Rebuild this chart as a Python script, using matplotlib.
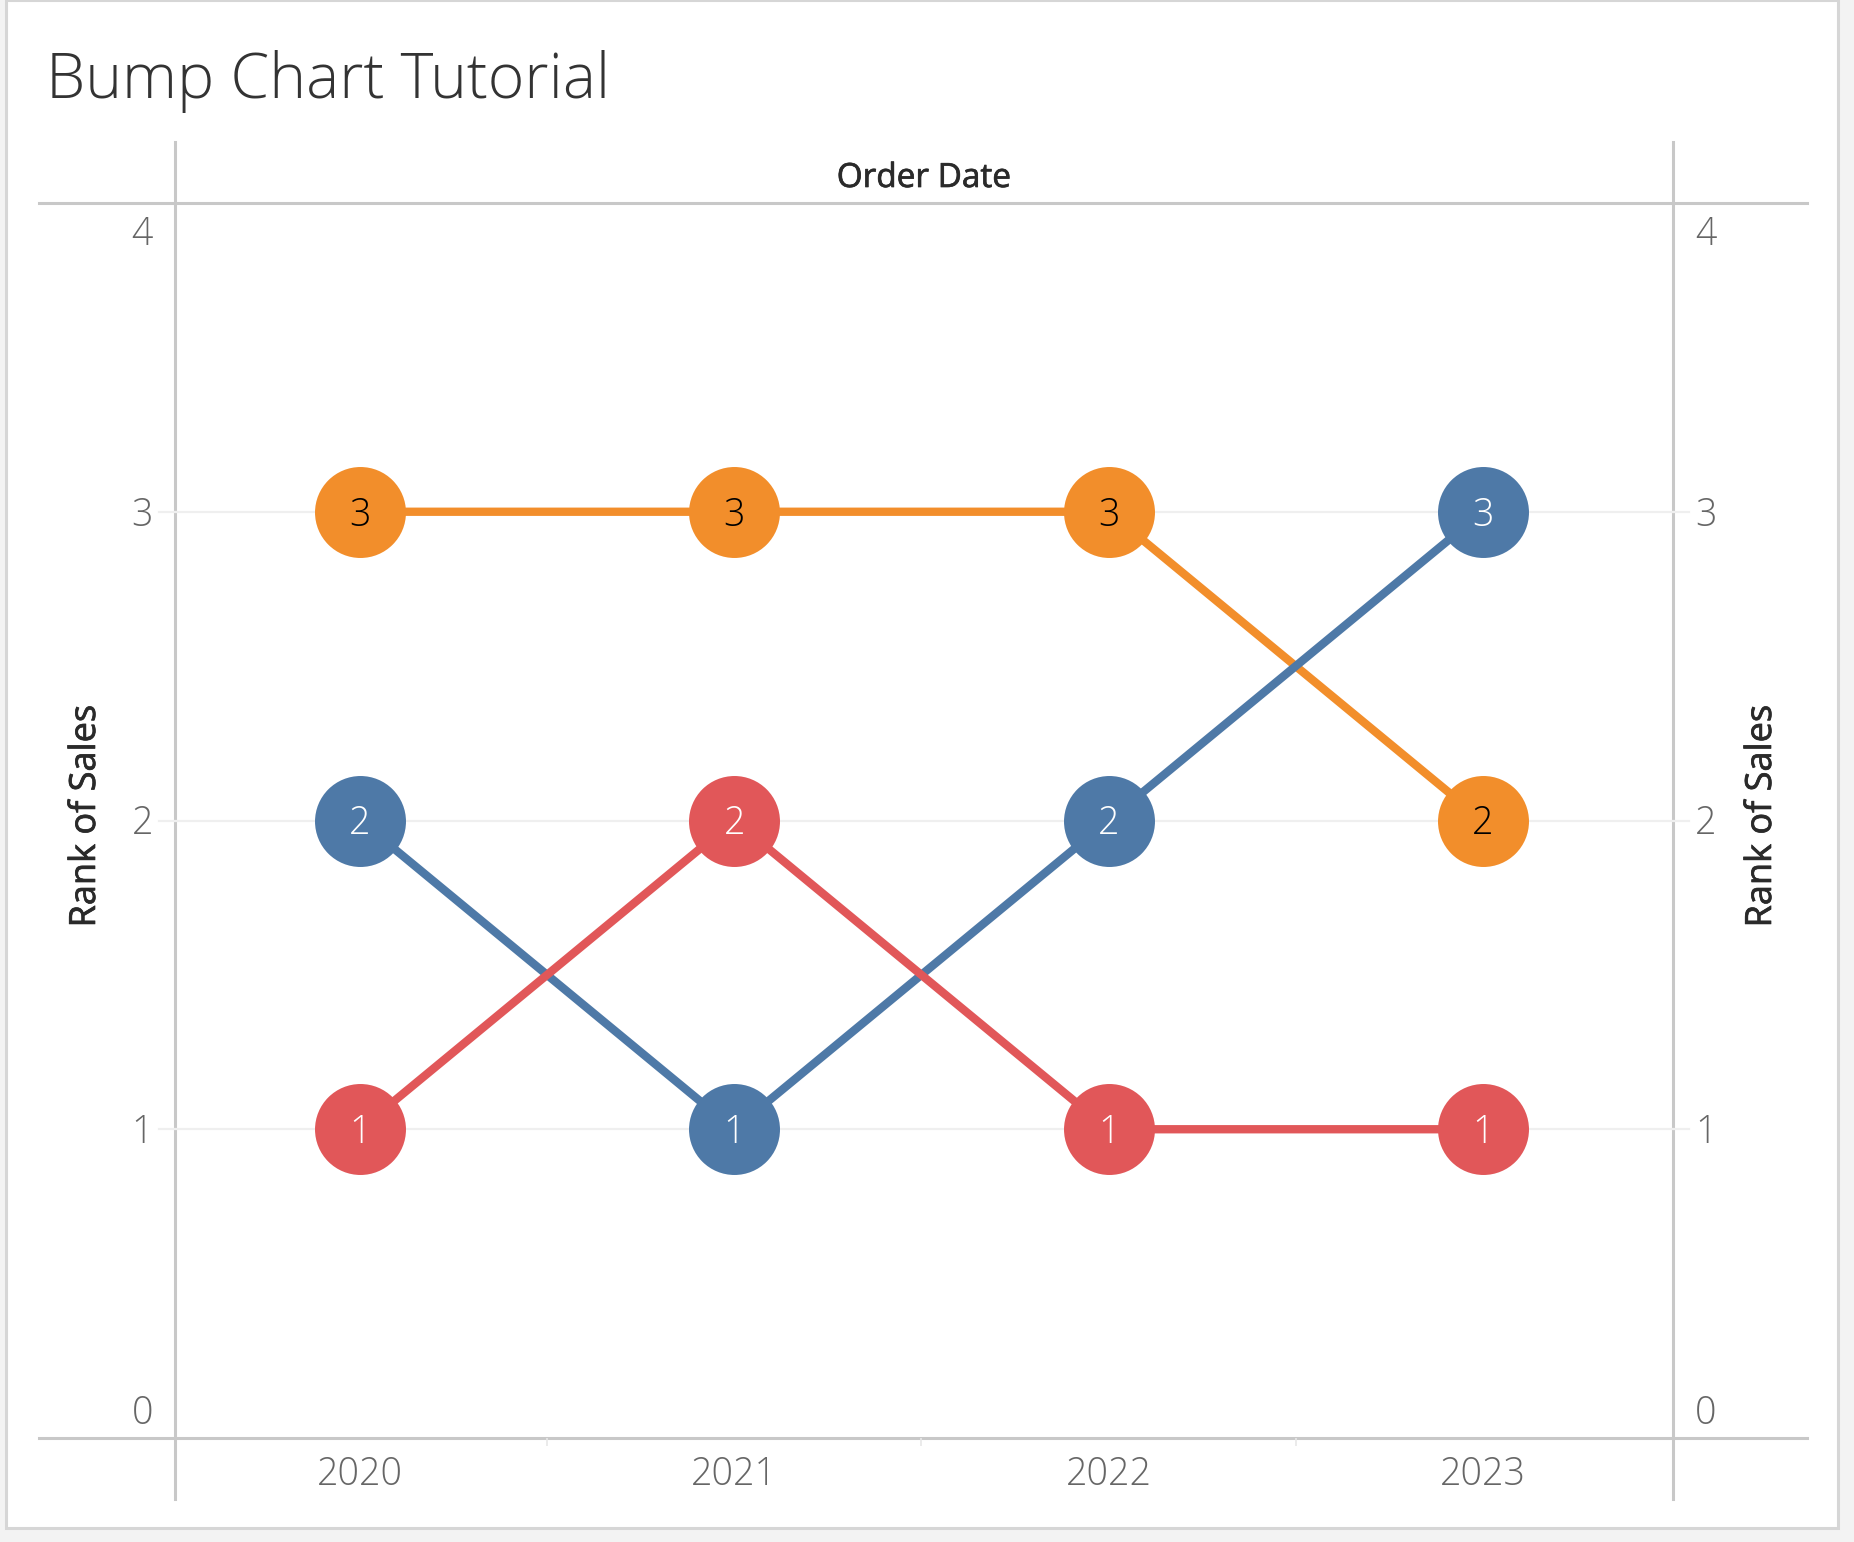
import matplotlib
matplotlib.use("Agg")
import matplotlib.pyplot as plt
import matplotlib.patheffects as pe
from matplotlib.patches import Rectangle
from matplotlib.lines import Line2D
from matplotlib.transforms import ScaledTranslation

# data
years = ["2020", "2021", "2022", "2023"]
series_names = ["Orange", "Blue", "Red"]
rank_orange = [3, 3, 3, 2]
rank_blue = [2, 1, 2, 3]
rank_red = [1, 2, 1, 1]
y_ticks = [0, 1, 2, 3, 4]

colors = {"Orange": "#F28E2B", "Blue": "#4E79A7", "Red": "#E15759"}
label_colors = {"Orange": "black", "Blue": "white", "Red": "white"}
ranks = {"Orange": rank_orange, "Blue": rank_blue, "Red": rank_red}

plt.rcParams["font.family"] = ["Open Sans", "DejaVu Sans"]

W, H = 1854, 1542
fig = plt.figure(figsize=(W / 100, H / 100), dpi=100)
fig.patch.set_facecolor("#f3f3f3")

# white card with thin border (behind the axes)
fig.patches.append(Rectangle((6 / W, 1 - 1528 / H), (1838 - 6) / W, 1528 / H,
                             transform=fig.transFigure, facecolor="white",
                             edgecolor="#d6d6d6", linewidth=2.2, zorder=-5))

left, right, top, bottom = 175, 1673, 203, 1438
ax = fig.add_axes([left / W, 1 - bottom / H, (right - left) / W, (bottom - top) / H])
ax.set_facecolor("none")
for s in ax.spines.values():
    s.set_visible(False)

# frame lines (Tableau style header/footer rules)
frame_col = "#c8c8c8"
for yy in (top, bottom):
    fig.lines.append(Line2D([39 / W, 1807 / W], [1 - yy / H, 1 - yy / H],
                            transform=fig.transFigure, color=frame_col, lw=2.2, zorder=-1))
for xx in (left, right):
    fig.lines.append(Line2D([xx / W, xx / W], [1 - 142 / H, 1 - 1499 / H],
                            transform=fig.transFigure, color=frame_col, lw=2.2, zorder=-1))

x = [i + 0.5 for i in range(len(years))]
ax.set_xlim(0.006, 4.008)
ax.set_ylim(0, 4)

# gridlines
for g in [1, 2, 3]:
    ax.plot([-0.011, 1.011], [g, g], transform=ax.get_yaxis_transform(),
            color="#efefef", lw=1.6, zorder=1, clip_on=False)

def shift(dx_px, dy_px):
    return ScaledTranslation(dx_px / 100, dy_px / 100, fig.dpi_scale_trans)

for name in series_names:
    ax.plot(x, ranks[name], color=colors[name], lw=6, zorder=2,
            solid_capstyle="butt")
for name in series_names:
    ax.plot(x, ranks[name], linestyle="none", marker="o", markersize=65.5,
            markerfacecolor=colors[name], markeredgewidth=0, zorder=3)
    for xi, r in zip(x, ranks[name]):
        ax.text(xi, r, str(r), ha="center", va="baseline", fontsize=27,
                fontweight="light", color=label_colors[name], zorder=4,
                transform=ax.transData + shift(0, -14))

# ticks: only the faint minor marks between years come from the axis
ax.set_xticks([])
ax.set_yticks([])
ax.set_xticks([1, 2, 3], minor=True)
ax.tick_params(axis="x", which="minor", length=6, width=1.2, color="#e8e8e8")

tick_kw = dict(fontsize=27, fontweight="light", color="#666666", va="baseline")
xt = ax.get_xaxis_transform()
for xi, yr in zip(x, years):
    ax.text(xi, 0, yr, ha="center", transform=xt + shift(0, -47), **tick_kw)

yt_left = ax.get_yaxis_transform()
for v in y_ticks:
    dy = -14
    if v == 4:
        dy = -42
    elif v == 0:
        dy = 14
    ax.text(0, v, str(v), ha="right", transform=yt_left + shift(-22, dy), **tick_kw)
    ax.text(1, v, str(v), ha="left", transform=yt_left + shift(22, dy), **tick_kw)

# texts
fig.text(46 / W, 1 - 98 / H, "Bump Chart Tutorial", fontsize=45, fontweight="light",
         color="#333333", ha="left", va="baseline")
bold_fx = [pe.withStroke(linewidth=0.5, foreground="#2a2a2a")]
fig.text((left + right) / 2 / W, 1 - 187 / H, "Order Date", fontsize=24,
         color="#2a2a2a", ha="center", va="baseline", path_effects=bold_fx)
for xx in (86, 1762):
    fig.text(xx / W, 1 - 816 / H, "Rank of Sales", fontsize=26, rotation=90,
             color="#2a2a2a", ha="center", va="center", path_effects=bold_fx)

fig.savefig("out.png", dpi=100, facecolor=fig.get_facecolor())
